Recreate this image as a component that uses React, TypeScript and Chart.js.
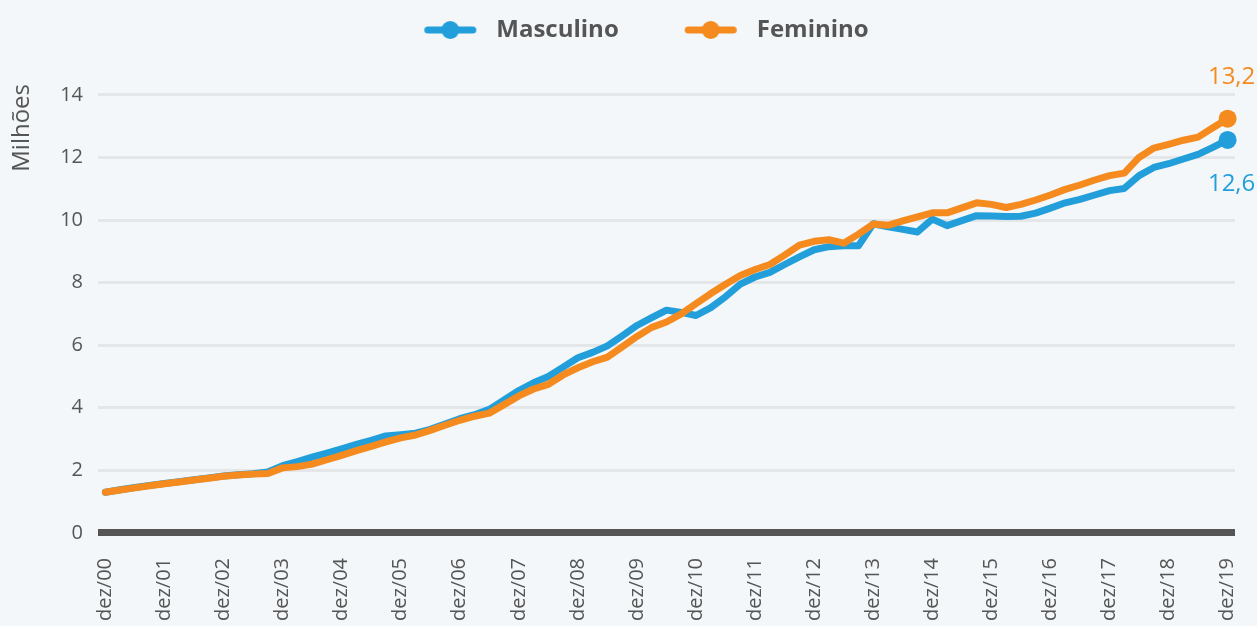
import React, { useEffect, useRef } from 'react';
import { Chart, registerables } from 'chart.js';

Chart.register(...registerables);

// ---- Data ----
const years = ['00','01','02','03','04','05','06','07','08','09','10','11','12','13','14','15','16','17','18','19'];
const quarterMonths = ['mar', 'jun', 'set', 'dez'];
const categories = ['dez/00', ...years.slice(1).flatMap((y) => quarterMonths.map((m) => `${m}/${y}`))];

const masculino = [
  1.30, 1.38, 1.45, 1.52, 1.58,
  1.64, 1.70, 1.76, 1.82,
  1.86, 1.89, 1.95, 2.15,
  2.28, 2.42, 2.55, 2.69,
  2.83, 2.96, 3.10, 3.14,
  3.19, 3.31, 3.48, 3.65,
  3.78, 3.95, 4.25, 4.55,
  4.80, 5.00, 5.30, 5.60,
  5.77, 5.98, 6.30, 6.63,
  6.88, 7.12, 7.05, 6.95,
  7.20, 7.55, 7.95, 8.18,
  8.33, 8.58, 8.82, 9.05,
  9.15, 9.18, 9.18, 9.88,
  9.78, 9.70, 9.62, 10.03,
  9.82, 9.98, 10.14, 10.13,
  10.11, 10.12, 10.22, 10.38,
  10.55, 10.66, 10.80, 10.94,
  11.01, 11.42, 11.68, 11.80,
  11.95, 12.10, 12.32, 12.56,
];

const feminino = [
  1.30, 1.37, 1.44, 1.51, 1.57,
  1.63, 1.69, 1.75, 1.81,
  1.85, 1.88, 1.90, 2.08,
  2.12, 2.20, 2.34, 2.48,
  2.63, 2.77, 2.91, 3.04,
  3.13, 3.28, 3.44, 3.60,
  3.73, 3.83, 4.10, 4.38,
  4.60, 4.75, 5.05, 5.28,
  5.47, 5.62, 5.95, 6.28,
  6.57, 6.74, 7.00, 7.33,
  7.65, 7.95, 8.23, 8.42,
  8.58, 8.88, 9.20, 9.32,
  9.37, 9.26, 9.55, 9.87,
  9.83, 9.97, 10.10, 10.23,
  10.23, 10.39, 10.55, 10.50,
  10.40, 10.50, 10.64, 10.80,
  10.98, 11.12, 11.28, 11.42,
  11.50, 12.00, 12.30, 12.42,
  12.55, 12.65, 12.95, 13.24,
];

const yTicks = [0, 2, 4, 6, 8, 10, 12, 14];
const seriesNames = ['Masculino', 'Feminino'];
const seriesColors = ['#229fda', '#f58a1f'];
const axisTitle = 'Milhões';

const FONT = "'Open Sans', 'Noto Sans', sans-serif";
const TEXT = '#555555';
const BG = '#f3f7f9';

// legend icon: blank left part, line+dot, small gap at right
const ICON_L = 36;
const ICON_R = 8;
const ICON_W = ICON_L + 52 + ICON_R;

function legendIcon(color: string) {
  const c = document.createElement('canvas');
  c.width = ICON_W;
  c.height = 20;
  const ctx = c.getContext('2d')!;
  ctx.strokeStyle = color;
  ctx.lineWidth = 7;
  ctx.lineCap = 'round';
  ctx.beginPath();
  ctx.moveTo(ICON_L + 3.5, 10);
  ctx.lineTo(ICON_L + 48.5, 10);
  ctx.stroke();
  ctx.fillStyle = color;
  ctx.beginPath();
  ctx.arc(ICON_L + 26, 10, 9, 0, Math.PI * 2);
  ctx.fill();
  return c;
}

const endLabelsPlugin = {
  id: 'endLabels',
  afterDatasetsDraw(chart: any) {
    const ctx = chart.ctx;
    ctx.save();
    ctx.font = `24px ${FONT}`;
    ctx.textAlign = 'center';
    ctx.textBaseline = 'middle';
    chart.data.datasets.forEach((ds: any, i: number) => {
      const meta = chart.getDatasetMeta(i);
      const idx = meta.data.length - 1;
      const pt = meta.data[idx];
      const v = ds.data[idx] as number;
      ctx.fillStyle = ds.borderColor;
      const txt = v.toFixed(1).replace('.', ',');
      const above = i === 1;
      ctx.fillText(txt, pt.x + 4, above ? pt.y - 41 : pt.y + 44);
    });
    ctx.restore();
  },
};

const yTitlePlugin = {
  id: 'yTitleTop',
  afterDraw(chart: any) {
    const ctx = chart.ctx;
    const y14 = chart.scales.y.getPixelForValue(14);
    ctx.save();
    ctx.font = `24px ${FONT}`;
    ctx.fillStyle = TEXT;
    ctx.textAlign = 'center';
    ctx.textBaseline = 'middle';
    ctx.translate(22, y14 + 33);
    ctx.rotate(-Math.PI / 2);
    ctx.fillText(axisTitle, 0, 0);
    ctx.restore();
  },
};

export default function App() {
  const ref = useRef<HTMLCanvasElement | null>(null);

  useEffect(() => {
    if (!ref.current) return;
    const icons = seriesColors.map((c) => legendIcon(c));
    const chart = new Chart(ref.current, {
      type: 'line',
      data: {
        labels: categories,
        datasets: [
          {
            label: seriesNames[0],
            data: masculino,
            borderColor: seriesColors[0],
            backgroundColor: seriesColors[0],
            borderWidth: 7,
            borderJoinStyle: 'round',
            borderCapStyle: 'round',
            tension: 0,
            pointRadius: masculino.map((_, i) => (i === masculino.length - 1 ? 9 : 0)),
            pointHoverRadius: 0,
            pointBorderWidth: 0,
            clip: false,
            order: 2,
          },
          {
            label: seriesNames[1],
            data: feminino,
            borderColor: seriesColors[1],
            backgroundColor: seriesColors[1],
            borderWidth: 7,
            borderJoinStyle: 'round',
            borderCapStyle: 'round',
            tension: 0,
            pointRadius: feminino.map((_, i) => (i === feminino.length - 1 ? 9 : 0)),
            pointHoverRadius: 0,
            pointBorderWidth: 0,
            clip: false,
            order: 1,
          },
        ],
      },
      options: {
        responsive: false,
        animation: false,
        events: [],
        layout: { padding: { left: 0, right: 0, top: -12, bottom: -20 } },
        scales: {
          x: {
            type: 'category',
            offset: true,
            grid: { display: false, drawTicks: false },
            border: { display: false },
            afterFit: (scale: any) => {
              scale.paddingLeft = 0;
              scale.paddingRight = 22;
            },
            ticks: {
              autoSkip: false,
              maxRotation: 90,
              minRotation: 90,
              padding: 25,
              color: TEXT,
              font: { size: 20, family: FONT },
              callback: function (this: any, _v: any, i: number) {
                const l = categories[i];
                return l.startsWith('dez') ? l : '';
              },
            },
          },
          y: {
            min: 0,
            max: 15.37,
            afterFit: (scale: any) => {
              scale.width = 98;
            },
            afterBuildTicks: (scale: any) => {
              scale.ticks = yTicks.map((v) => ({ value: v }));
            },
            grid: {
              drawTicks: false,
              color: (c: any) => (c.tick && c.tick.value === 0 ? '#555555' : '#e4e6e8'),
              lineWidth: (c: any) => (c.tick && c.tick.value === 0 ? 7 : 3),
            },
            border: { display: false },
            ticks: {
              padding: 15,
              color: TEXT,
              font: { size: 20, family: FONT },
              callback: (v: any) => String(v),
            },
          },
        },
        plugins: {
          tooltip: { enabled: false },
          legend: {
            position: 'top',
            labels: {
              usePointStyle: true,
              pointStyleWidth: ICON_W,
              padding: 30,
              color: TEXT,
              font: { size: 24, weight: 'bold', family: FONT },
              generateLabels: (ch: any) =>
                ch.data.datasets.map((ds: any, i: number) => ({
                  text: ds.label,
                  pointStyle: icons[i],
                  fillStyle: ds.borderColor,
                  strokeStyle: ds.borderColor,
                  lineWidth: 0,
                  hidden: false,
                  datasetIndex: i,
                  fontColor: TEXT,
                })),
            },
          },
        },
      },
      plugins: [endLabelsPlugin, yTitlePlugin],
    } as any);
    return () => chart.destroy();
  }, []);

  return (
    <div style={{ position: 'absolute', left: 0, top: 0, width: 1257, height: 626, background: BG }}>
      <canvas ref={ref} width={1257} height={626} />
    </div>
  );
}
